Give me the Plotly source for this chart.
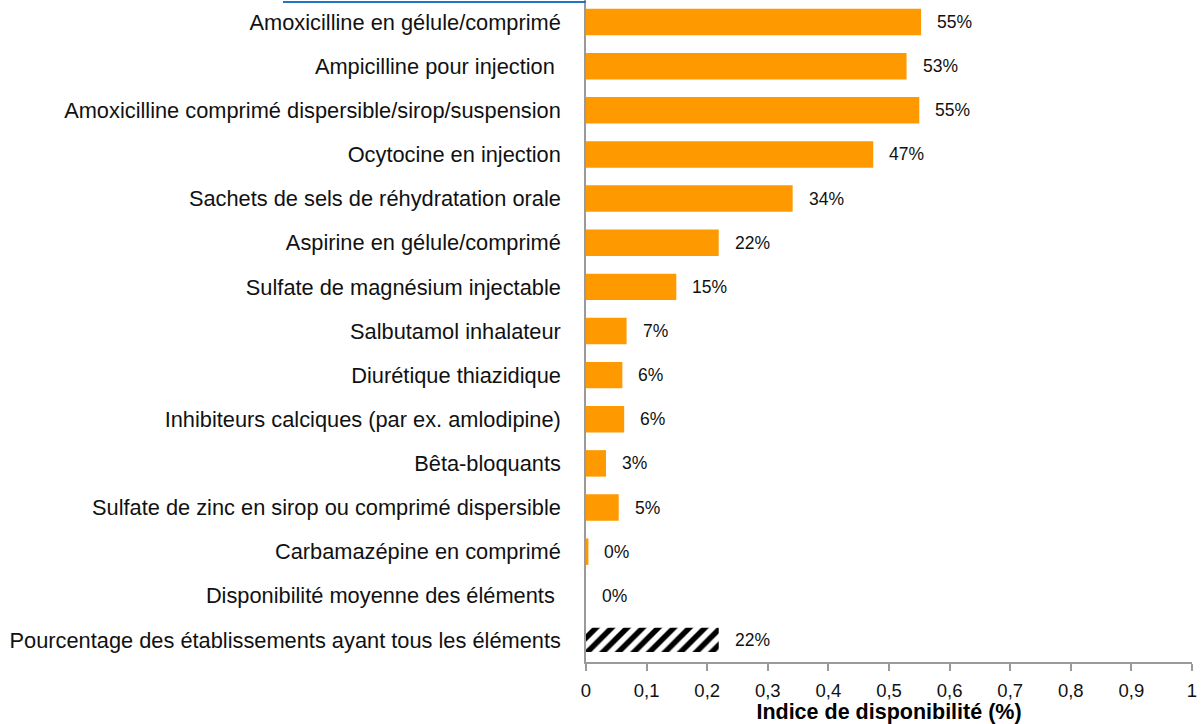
import plotly.graph_objects as go

# ---- data ----
categories = [
    "Amoxicilline en gélule/comprimé",
    "Ampicilline pour injection\u00a0",
    "Amoxicilline comprimé dispersible/sirop/suspension",
    "Ocytocine en injection",
    "Sachets de sels de réhydratation orale",
    "Aspirine en gélule/comprimé",
    "Sulfate de magnésium injectable",
    "Salbutamol inhalateur",
    "Diurétique thiazidique",
    "Inhibiteurs calciques (par ex. amlodipine)",
    "Bêta-bloquants",
    "Sulfate de zinc en sirop ou comprimé dispersible",
    "Carbamazépine en comprimé",
    "Disponibilité moyenne des éléments\u00a0",
]
values = [0.553, 0.529, 0.550, 0.474, 0.341, 0.219, 0.149, 0.067, 0.060, 0.063, 0.033, 0.054, 0.004, 0.0]
value_labels = ["55%", "53%", "55%", "47%", "34%", "22%", "15%", "7%", "6%", "6%", "3%", "5%", "0%", "0%"]

summary_category = "Pourcentage des établissements ayant tous les éléments"
summary_value = 0.219
summary_label = "22%"

x_ticks = [0, 0.1, 0.2, 0.3, 0.4, 0.5, 0.6, 0.7, 0.8, 0.9, 1]
x_title = "Indice de disponibilité (%)"

all_categories = categories + [summary_category]

fig = go.Figure()
fig.add_trace(go.Bar(
    y=categories, x=values, orientation="h",
    marker=dict(color="#FF9900", line=dict(width=0)),
    width=0.6, hoverinfo="skip", showlegend=False,
))
fig.add_trace(go.Bar(
    y=[summary_category], x=[summary_value], orientation="h",
    marker=dict(color="white", line=dict(width=0),
                pattern=dict(shape="/", fgcolor="#000000", bgcolor="#FFFFFF",
                             fgopacity=1, fillmode="replace",
                             size=11, solidity=0.5)),
    width=0.55, hoverinfo="skip", showlegend=False,
))

annotations = []
for c, v, t in zip(all_categories, values + [summary_value], value_labels + [summary_label]):
    annotations.append(dict(
        x=v, y=c, xref="x", yref="y", text=t, showarrow=False,
        xanchor="left", yanchor="middle", xshift=14,
        font=dict(family="Liberation Sans, Arial, sans-serif", size=17.5, color="#111111"),
    ))

fig.update_layout(
    width=1203, height=724,
    margin=dict(l=586, r=11, t=0, b=62, autoexpand=False),
    paper_bgcolor="white", plot_bgcolor="white",
    barmode="overlay",
    separators=", ",
    annotations=annotations,
    shapes=[dict(type="line", xref="paper", yref="paper",
                 x0=(283 - 586) / 606, x1=0, y0=(662 - 2) / 662, y1=(662 - 2) / 662,
                 line=dict(color="#1F74C6", width=2))],
    font=dict(family="Liberation Sans, Arial, sans-serif", color="#000000"),
)
fig.update_xaxes(
    range=[0, 1], tickvals=x_ticks, showgrid=False, zeroline=False,
    showline=True, linecolor="#9A9A9A", linewidth=1.5,
    ticks="outside", ticklen=7, tickcolor="#9A9A9A", tickwidth=1.5,
    ticklabelstandoff=4,
    tickfont=dict(size=18.5, color="#111111"),
    title=dict(text="<b>" + x_title + "</b>", font=dict(size=21.5, color="#000000"), standoff=1),
)
fig.update_yaxes(
    categoryorder="array", categoryarray=all_categories, autorange="reversed",
    showgrid=False, zeroline=False, showline=True, linecolor="#9A9A9A", linewidth=1.5,
    ticks="", ticklabelstandoff=19,
    tickfont=dict(size=21.8, color="#111111"),
)

fig.write_html("out.html", config={"displayModeBar": False},
               post_script="document.body.style.margin='0';")
